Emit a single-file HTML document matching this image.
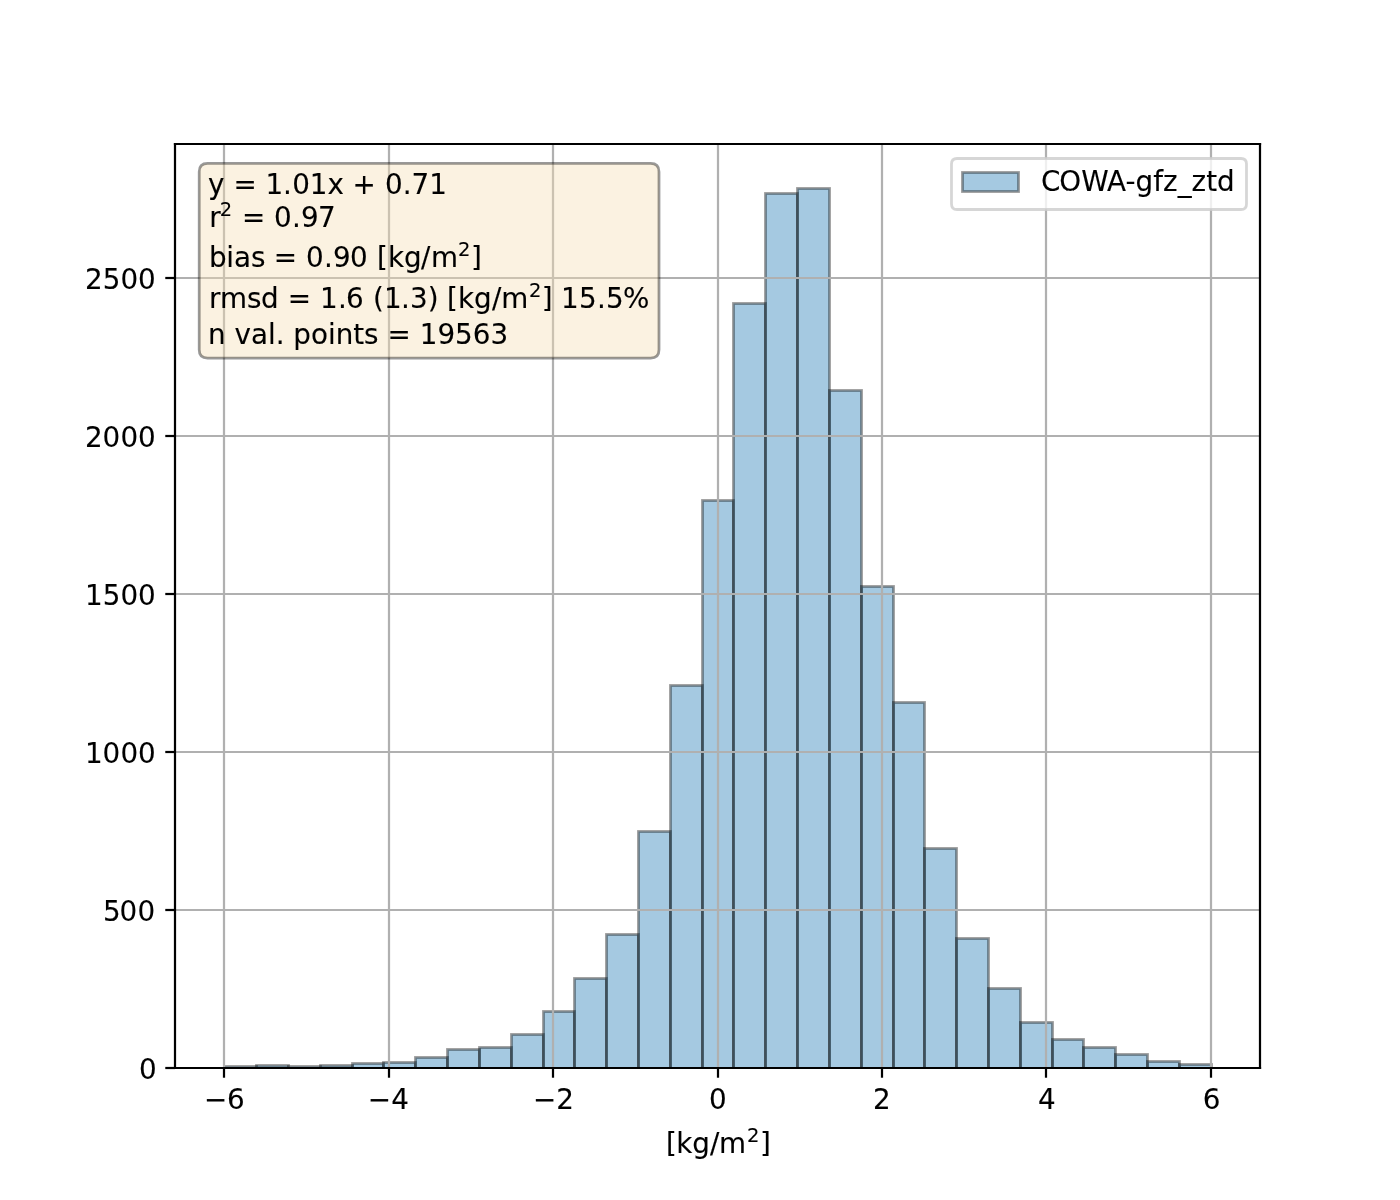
<!DOCTYPE html>
<html lang="en"><head><meta charset="utf-8"><title>COWA-gfz_ztd histogram</title>
<style>html,body{margin:0;padding:0;background:#fff;overflow:hidden}svg{display:block}text{font-family:"DejaVu Sans","Liberation Sans",sans-serif;font-size:27.778px;fill:#000;stroke:#000;stroke-width:0.12px}.s{font-size:19.444px}</style>
</head><body>
<svg width="1400" height="1200" viewBox="0 0 1400 1200">
<defs><clipPath id="ax"><rect x="175" y="144" width="1085" height="924"/></clipPath></defs>
<rect width="1400" height="1200" fill="#fff"/>
<!-- histogram bars -->
<g clip-path="url(#ax)" fill="#1f77b4" fill-opacity="0.4" stroke="#000" stroke-opacity="0.4" stroke-width="2.778" stroke-linejoin="miter">
<rect x="224.5" y="1066.5" width="32" height="2"/>
<rect x="256.5" y="1065.5" width="32" height="3"/>
<rect x="288.5" y="1066.5" width="32" height="2"/>
<rect x="320.5" y="1065.5" width="32" height="3"/>
<rect x="352.5" y="1063.5" width="31" height="5"/>
<rect x="383.5" y="1062.5" width="32" height="6"/>
<rect x="415.5" y="1057.5" width="32" height="11"/>
<rect x="447.5" y="1049.5" width="32" height="19"/>
<rect x="479.5" y="1047.5" width="32" height="21"/>
<rect x="511.5" y="1034.5" width="32" height="34"/>
<rect x="543.5" y="1011.5" width="31" height="57"/>
<rect x="574.5" y="978.5" width="32" height="90"/>
<rect x="606.5" y="934.5" width="32" height="134"/>
<rect x="638.5" y="831.5" width="32" height="237"/>
<rect x="670.5" y="685.5" width="32" height="383"/>
<rect x="702.5" y="500.5" width="31" height="568"/>
<rect x="733.5" y="303.5" width="32" height="765"/>
<rect x="765.5" y="193.5" width="32" height="875"/>
<rect x="797.5" y="188.5" width="32" height="880"/>
<rect x="829.5" y="390.5" width="32" height="678"/>
<rect x="861.5" y="586.5" width="32" height="482"/>
<rect x="893.5" y="702.5" width="31" height="366"/>
<rect x="924.5" y="848.5" width="32" height="220"/>
<rect x="956.5" y="938.5" width="32" height="130"/>
<rect x="988.5" y="988.5" width="32" height="80"/>
<rect x="1020.5" y="1022.5" width="32" height="46"/>
<rect x="1052.5" y="1039.5" width="31" height="29"/>
<rect x="1083.5" y="1047.5" width="32" height="21"/>
<rect x="1115.5" y="1054.5" width="32" height="14"/>
<rect x="1147.5" y="1061.5" width="32" height="7"/>
<rect x="1179.5" y="1064.5" width="32" height="4"/>
</g>
<!-- grid -->
<g clip-path="url(#ax)" stroke="#b0b0b0" stroke-width="2.222" fill="none">
<line x1="224" y1="144" x2="224" y2="1068"/>
<line x1="389" y1="144" x2="389" y2="1068"/>
<line x1="553" y1="144" x2="553" y2="1068"/>
<line x1="718" y1="144" x2="718" y2="1068"/>
<line x1="882" y1="144" x2="882" y2="1068"/>
<line x1="1046" y1="144" x2="1046" y2="1068"/>
<line x1="1211" y1="144" x2="1211" y2="1068"/>
<line x1="175" y1="1068" x2="1260" y2="1068"/>
<line x1="175" y1="910" x2="1260" y2="910"/>
<line x1="175" y1="752" x2="1260" y2="752"/>
<line x1="175" y1="594" x2="1260" y2="594"/>
<line x1="175" y1="436" x2="1260" y2="436"/>
<line x1="175" y1="278" x2="1260" y2="278"/>
</g>
<!-- ticks and spines -->
<g stroke="#000" stroke-width="2.222" fill="none">
<line x1="224" y1="1068" x2="224" y2="1077.72"/>
<line x1="389" y1="1068" x2="389" y2="1077.72"/>
<line x1="553" y1="1068" x2="553" y2="1077.72"/>
<line x1="718" y1="1068" x2="718" y2="1077.72"/>
<line x1="882" y1="1068" x2="882" y2="1077.72"/>
<line x1="1046" y1="1068" x2="1046" y2="1077.72"/>
<line x1="1211" y1="1068" x2="1211" y2="1077.72"/>
<line x1="175" y1="1068" x2="165.28" y2="1068"/>
<line x1="175" y1="910" x2="165.28" y2="910"/>
<line x1="175" y1="752" x2="165.28" y2="752"/>
<line x1="175" y1="594" x2="165.28" y2="594"/>
<line x1="175" y1="436" x2="165.28" y2="436"/>
<line x1="175" y1="278" x2="165.28" y2="278"/>
<g stroke-linecap="square"><line x1="175" y1="1068" x2="175" y2="144"/><line x1="1260" y1="1068" x2="1260" y2="144"/><line x1="175" y1="1068" x2="1260" y2="1068"/><line x1="175" y1="144" x2="1260" y2="144"/></g>
</g>
<!-- x tick labels -->
<text x="203.98 227.03" y="1108.5">−6</text>
<text x="367.83 391.13" y="1108.5">−4</text>
<text x="532.88 556.18" y="1108.5">−2</text>
<text x="709.01" y="1108.5">0</text>
<text x="873.01" y="1108.5">2</text>
<text x="1038.11" y="1108.5">4</text>
<text x="1202.81" y="1108.5">6</text>
<!-- y tick labels -->
<text x="138.88" y="1078.5">0</text>
<text x="102.95 119.61 137.48" y="920.5">500</text>
<text x="85.03 102.58 120.46 138.11" y="762.5">1000</text>
<text x="84.98 102.63 120.41 138.06" y="604.5">1500</text>
<text x="85.03 102.58 120.46 138.11" y="446.5">2000</text>
<text x="84.98 102.63 120.41 138.06" y="288.5">2500</text>
<!-- x axis label -->
<text x="666.05 676.18 692.26 709.98 719.04" y="1153">[kg/m</text><text class="s" x="747" y="1142.4">2</text><text x="759.9" y="1153">]</text>
<!-- stats text box -->
<path d="M207.55 358.1 L650.67 358.1 Q659.0 358.1 659.0 349.77 L659.0 171.72 Q659.0 163.39 650.67 163.39 L207.55 163.39 Q199.22 163.39 199.22 171.72 L199.22 349.77 Q199.22 358.1 207.55 358.1 Z" fill="#f5deb3" fill-opacity="0.4" stroke="#000" stroke-opacity="0.4" stroke-width="2.778"/>
<text x="208.05 224.47 233.45 256.72 265.54 283.1 292.13 309.7 327.41 343.84 352.47 375.74 384.92 402.67 411.4 429.22" y="193.9">y = 1.01x + 0.71</text>
<text x="209.15" y="226.9">r</text><text class="s" x="219.77" y="216.3">2</text><text x="242.06 265.33 273.96 292.08 300.96 318.06" y="226.9">= 0.97</text>
<text x="209.1 226.36 234.08 251.09 265.56 273.64 296.91 306.03 323.94 333.07 349.94 367.6 376.92 387.95 404.03 420.91 431.12" y="267.3">bias = 0.90 [kg/m</text><text class="s" x="457.93" y="255.7">2</text><text x="470.95" y="267.3">]</text>
<text x="209.1 220.07 246.92 261.09 278.71 287.64 310.89 320.02 337.99 345.97 363.63 372.9 383.98 401 410.08 427.84 438.68 446.96 458.09 474.07 491.89 501.15" y="307.8">rmsd = 1.6 (1.3) [kg/m</text><text class="s" x="528.9" y="297.2">2</text><text x="541.85 552.68 560.91 578.91 596.88 605.91 623.07" y="307.8">] 15.5%</text>
<text x="208.05 225.64 234.42 250.89 268.11 275.73 284.56 293.28 311.01 328.09 335.75 353.21 364.08 378.55 387.58 410.84 419.67 437.48 455.05 472.72 490.58" y="344">n val. points = 19563</text>
<!-- legend -->
<path d="M957.06 209.5 L1240.94 209.5 Q1246.5 209.5 1246.5 203.94 L1246.5 164.06 Q1246.5 158.5 1240.94 158.5 L957.06 158.5 Q951.5 158.5 951.5 164.06 L951.5 203.94 Q951.5 209.5 957.06 209.5 Z" fill="#fff" fill-opacity="0.8" stroke="#ccc" stroke-opacity="0.8" stroke-width="2.778"/>
<rect x="962.5" y="172.5" width="56" height="19" fill="#1f77b4" fill-opacity="0.4" stroke="#000" stroke-opacity="0.4" stroke-width="2.778"/>
<text x="1040.9 1059.32 1081.18 1107.07 1125.45 1135.53 1153.15 1162.97 1177.7 1191.62 1206.15 1216.99" y="191.1">COWA-gfz_ztd</text>
</svg>
</body></html>
